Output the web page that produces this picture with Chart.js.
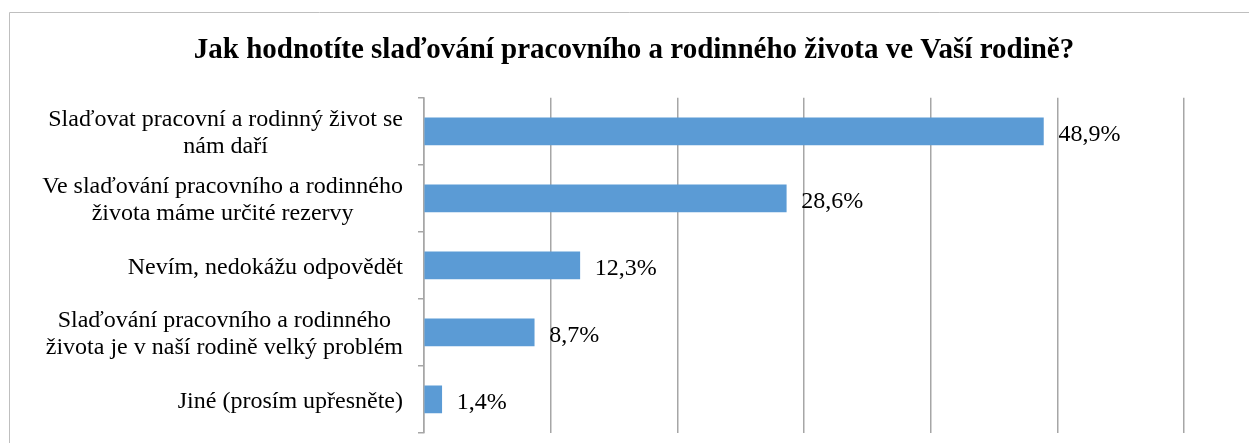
<!DOCTYPE html>
<html>
<head>
<meta charset="utf-8">
<script src="https://cdn.jsdelivr.net/npm/chart.js@4/dist/chart.umd.min.js"></script>
<style>
  html, body { margin: 0; padding: 0; background: #fff; }
  #wrap { position: relative; width: 1249px; height: 443px; }
</style>
</head>
<body>
<div id="wrap"><canvas id="chart"></canvas></div>
<script>
const TITLE = "Jak hodnotíte slaďování pracovního a rodinného života ve Vaší rodině?";
const categories = [
  ["Slaďovat pracovní a rodinný život se", "nám daří"],
  ["Ve slaďování pracovního a rodinného", "života máme určité rezervy"],
  ["Nevím, nedokážu odpovědět"],
  ["Slaďování pracovního a rodinného", "života je v naší rodině velký problém"],
  ["Jiné (prosím upřesněte)"],
];
const values = [48.9, 28.6, 12.3, 8.7, 1.4];
const axisMax = 60;
const axisStep = 10;

const SERIF = "'Liberation Serif', 'Times New Roman', serif";
const GRID = "#a6a6a6";
const fmt = (v) => v.toFixed(1).replace(".", ",") + "%";

// light frame around the chart (cropped on the right/bottom)
const framePlugin = {
  id: "frame",
  beforeDraw(chart) {
    const ctx = chart.ctx;
    ctx.save();
    ctx.strokeStyle = "#bfbfbf";
    ctx.lineWidth = 1;
    ctx.beginPath();
    ctx.moveTo(9.5, 443);
    ctx.lineTo(9.5, 12.5);
    ctx.lineTo(1249, 12.5);
    ctx.stroke();
    ctx.restore();
  },
};

// category labels: each block right-aligned to the axis, lines centred
const labelPlugin = {
  id: "catLabels",
  afterDraw(chart) {
    const ctx = chart.ctx;
    const yScale = chart.scales.y;
    const right = chart.chartArea.left - 21;
    const lineH = 27;
    ctx.save();
    ctx.font = "24px " + SERIF;
    ctx.fillStyle = "#000";
    ctx.textAlign = "center";
    ctx.textBaseline = "middle";
    categories.forEach((lines, i) => {
      const y = yScale.getPixelForTick(i) + 2;
      const maxW = Math.max(...lines.map((l) => ctx.measureText(l).width));
      const cx = right - maxW / 2;
      const y0 = y - ((lines.length - 1) * lineH) / 2;
      lines.forEach((l, j) => ctx.fillText(l, cx, y0 + j * lineH));
    });
    ctx.restore();
  },
};

// value labels at the end of each bar
const valuePlugin = {
  id: "valueLabels",
  afterDatasetsDraw(chart) {
    const ctx = chart.ctx;
    const meta = chart.getDatasetMeta(0);
    ctx.save();
    ctx.font = "24px " + SERIF;
    ctx.fillStyle = "#000";
    ctx.textAlign = "left";
    ctx.textBaseline = "middle";
    meta.data.forEach((bar, i) => {
      ctx.fillText(fmt(values[i]), bar.x + 15, bar.y + 3);
    });
    ctx.restore();
  },
};

new Chart(document.getElementById("chart"), {
  type: "bar",
  data: {
    labels: categories.map((c) => c.join(" ")),
    datasets: [
      {
        data: values,
        backgroundColor: "#5b9bd5",
        borderWidth: 0,
        barThickness: 27,
      },
    ],
  },
  options: {
    indexAxis: "y",
    responsive: true,
    maintainAspectRatio: false,
    animation: false,
    layout: { padding: { left: 84, right: 65, top: 0, bottom: 8 } },
    plugins: {
      legend: { display: false },
      tooltip: { enabled: false },
      title: {
        display: true,
        text: TITLE,
        color: "#000",
        font: { family: SERIF, size: 29, weight: "bold" },
        padding: { top: 33, bottom: 30 },
      },
    },
    scales: {
      x: {
        min: 0,
        max: axisMax,
        ticks: { display: false, stepSize: axisStep },
        grid: { color: GRID, lineWidth: 1.5, drawTicks: false },
        border: { display: false },
        afterFit: (s) => { s.height = 0; },
      },
      y: {
        ticks: { callback: () => "" },
        grid: { drawOnChartArea: false, color: GRID, lineWidth: 1.5, tickLength: 6 },
        border: { color: GRID, width: 1.5 },
        afterFit: (s) => { s.width = 340; },
      },
    },
  },
  plugins: [framePlugin, labelPlugin, valuePlugin],
});
</script>
</body>
</html>
